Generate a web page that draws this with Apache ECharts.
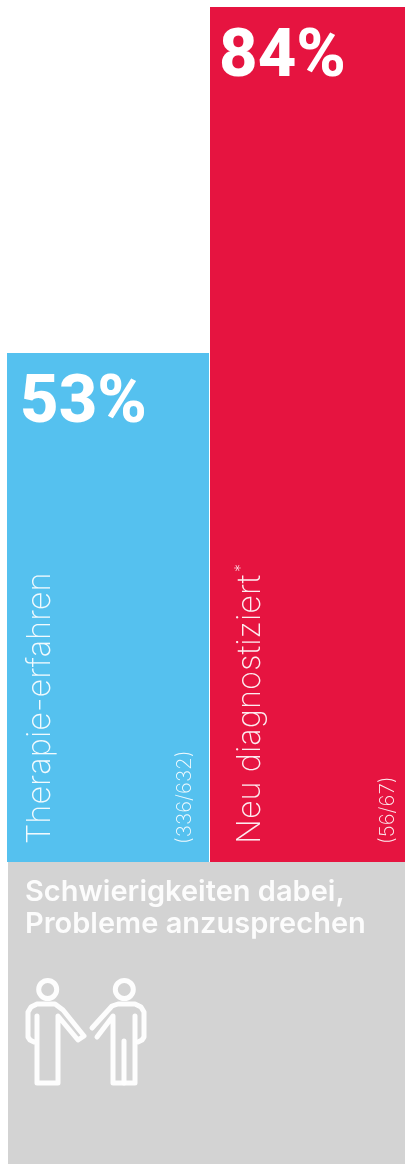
<!DOCTYPE html>
<html>
<head>
<meta charset="utf-8">
<title>Schwierigkeiten dabei, Probleme anzusprechen</title>
<style>
html, body { margin: 0; padding: 0; background: #fff; }
#chart { width: 405px; height: 1164px; }
</style>
<script src="https://cdn.jsdelivr.net/npm/echarts@6/dist/echarts.min.js"></script>
</head>
<body>
<div id="chart"></div>
<script>
var categories = ['Therapie-erfahren', 'Neu diagnostiziert'];
var percents = [53, 84];
var counts = ['(336/632)', '(56/67)'];
var colors = ['#55c1ef', '#e61440'];
var heading = 'Schwierigkeiten dabei,\nProbleme anzusprechen';

var thin = 'Inter';
var chart = echarts.init(document.getElementById('chart'));

/* the bars are not drawn from zero in the original */
var axisMin = 7.4;
var axisMax = 84;

function barSeries(i, labelOffset) {
	return {
		type: 'bar',
		xAxisIndex: i,
		yAxisIndex: i,
		barWidth: '100%',
		data: [percents[i]],
		itemStyle: { color: colors[i] },
		label: {
			show: true,
			position: 'insideTopLeft',
			distance: 0,
			offset: labelOffset,
			formatter: '{c}%',
			color: '#fff',
			fontFamily: 'Roboto',
			fontWeight: 800,
			fontSize: 67
		}
	};
}

function sideText(text, x, y, size) {
	return {
		type: 'text',
		z: 10,
		x: x,
		y: y,
		rotation: Math.PI / 2,
		style: {
			text: text,
			fill: '#fff',
			opacity: 0.92,
			font: '200 ' + size + 'px ' + thin,
			align: 'left',
			verticalAlign: 'middle'
		}
	};
}

function stroke(points) {
	return {
		type: 'polyline',
		z: 10,
		shape: { points: points },
		style: { stroke: '#fff', fill: null, lineWidth: 5, lineCap: 'round', lineJoin: 'round', opacity: 0.95 }
	};
}

function head(x, y) {
	return {
		type: 'circle',
		z: 10,
		shape: { cx: x, cy: y, r: 9 },
		style: { stroke: '#fff', fill: null, lineWidth: 5, opacity: 0.95 }
	};
}

var option = {
	animation: false,
	backgroundColor: '#fff',
	grid: [
		{ left: 7, top: 7, width: 202, height: 855 },
		{ left: 210, top: 7, width: 195, height: 855 }
	],
	xAxis: [
		{ type: 'category', gridIndex: 0, show: false, data: [categories[0]] },
		{ type: 'category', gridIndex: 1, show: false, data: [categories[1]] }
	],
	yAxis: [
		{ type: 'value', gridIndex: 0, show: false, min: axisMin, max: axisMax },
		{ type: 'value', gridIndex: 1, show: false, min: axisMin, max: axisMax }
	],
	series: [barSeries(0, [13, 19]), barSeries(1, [9, 19])],
	graphic: [
		{
			type: 'rect',
			z: 5,
			shape: { x: 8, y: 862, width: 397, height: 302 },
			style: { fill: '#d3d3d3' }
		},
		{
			type: 'text',
			z: 10,
			x: 25,
			y: 876,
			style: {
				text: heading,
				fill: '#fff',
				opacity: 0.92,
				font: '600 29px Inter',
				lineHeight: 32,
				align: 'left',
				verticalAlign: 'top'
			}
		},
		// rotated labels, read bottom to top
		sideText(categories[0], 40, 844, 32.5),
		sideText(counts[0], 185, 844, 20.5),
		sideText(categories[1], 250, 844, 32.5),
		sideText(counts[1], 388, 844, 20.5),
		sideText('*', 241, 572, 16),
		// left person
		head(47.7, 989.5),
		stroke([[37, 1016], [37, 1083], [58, 1083], [58, 1016], [78, 1040], [84, 1036], [63, 1010], [55, 1004], [37, 1004], [31, 1007], [28, 1012], [28, 1037], [30, 1040], [34, 1042]]),
		// right person
		head(124.3, 989.5),
		stroke([[135, 1016], [135, 1083], [113, 1083], [113, 1016], [97, 1037]]),
		stroke([[92, 1028], [112, 1006], [118, 1004], [135, 1004], [141, 1007], [144, 1012], [144, 1037], [142, 1040], [138, 1042]]),
		stroke([[124, 1041], [124, 1083]])
	]
};
chart.setOption(option);
</script>
</body>
</html>
